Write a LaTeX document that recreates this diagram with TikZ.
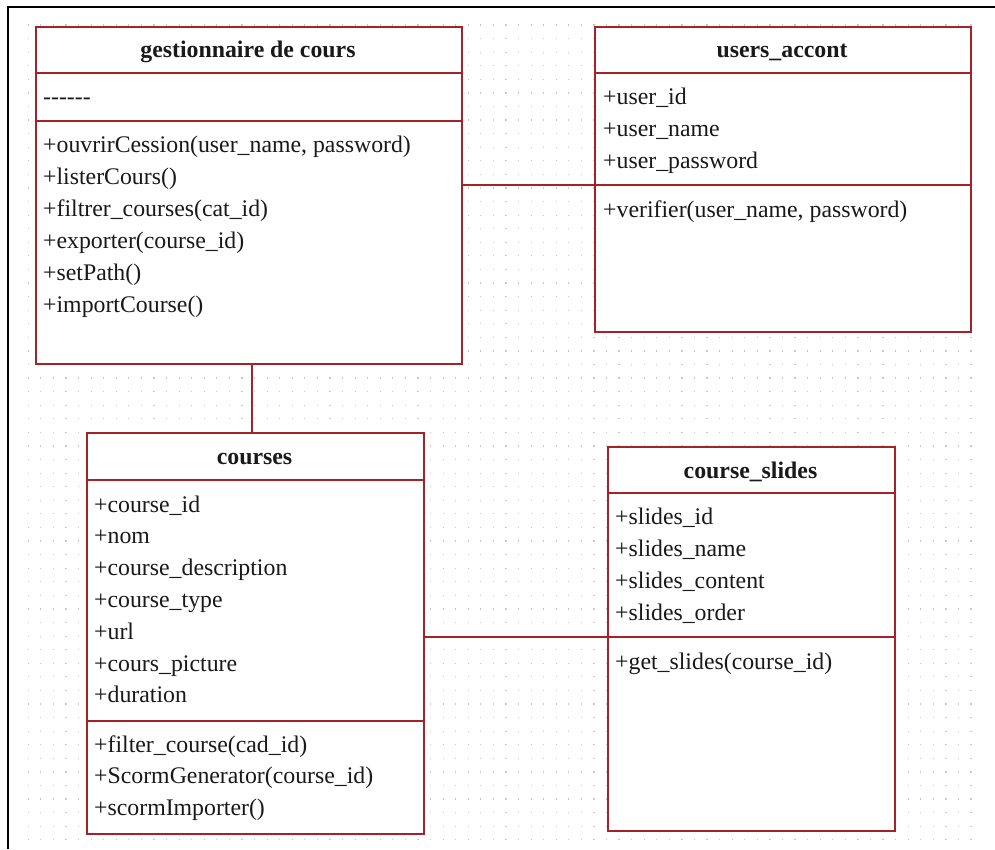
\documentclass[tikz,border=0pt]{standalone}
\usepackage{fontspec}
\setmainfont{Liberation Serif}
\usetikzlibrary{calc}
\definecolor{umlred}{RGB}{165,35,40}
\definecolor{dotgray}{RGB}{200,200,200}
\definecolor{txt}{RGB}{25,25,25}
\begin{document}
\begin{tikzpicture}[x=1pt,y=-1pt,
  classbox/.style={draw=umlred, fill=white, line width=2pt, inner sep=0pt, anchor=north west},
  sepline/.style={draw=umlred, line width=2pt},
  assoc/.style={draw=umlred, line width=2pt},
  ctitle/.style={font=\fontsize{23.8}{28}\selectfont\bfseries, text=txt, anchor=base, inner sep=0pt},
  member/.style={font=\fontsize{23.8}{28}\selectfont, text=txt, anchor=base west, inner sep=0pt},
  frameline/.style={draw=black, line width=2pt}]
\useasboundingbox (0,0) rectangle (995,849);
\fill[white] (0,0) rectangle (995,849);
% dotted grid
\foreach \i in {0,...,75} {
  \draw[dotgray, line width=1.2pt, dash pattern=on 1.2pt off 12.38pt]
    ({28.3+12.57*\i},24.4) -- ({28.3+12.57*\i},841);
}
% frame (left and top edges visible)
\draw[frameline] (8,849) -- (8,7) -- (995,7);

% class boxes
\node[classbox, minimum width=426pt, minimum height=337pt] (gest) at (35,26) {};
\node[classbox, minimum width=376pt, minimum height=305pt] (users) at (594,26) {};
\node[classbox, minimum width=337pt, minimum height=401pt] (courses) at (86,432) {};
\node[classbox, minimum width=287pt, minimum height=384pt] (slides) at (607,446) {};

% connectors
\coordinate (ua) at (users.west |- 0,185);
\coordinate (gc) at (252,0);
\coordinate (sa) at (slides.west |- 0,637);
\draw[assoc] (gest.east |- ua) -- (ua);
\draw[assoc] (gest.south -| gc) -- (courses.north -| gc);
\draw[assoc] (courses.east |- sa) -- (sa);

% separators
\draw[sepline] (gest.west |- 0,73) -- (gest.east |- 0,73);
\draw[sepline] (gest.west |- 0,121) -- (gest.east |- 0,121);
\draw[sepline] (users.west |- 0,73) -- (users.east |- 0,73);
\draw[sepline] (ua) -- (users.east |- ua);
\draw[sepline] (courses.west |- 0,480) -- (courses.east |- 0,480);
\draw[sepline] (courses.west |- 0,721) -- (courses.east |- 0,721);
\draw[sepline] (slides.west |- 0,493) -- (slides.east |- 0,493);
\draw[sepline] (sa) -- (slides.east |- sa);

% titles
\node[ctitle] (gestT) at (248,57) {gestionnaire de cours};
\node[ctitle] (usersT) at (782,57) {users\_accont};
\node[ctitle] (coursesT) at (254.5,464) {courses};
\node[ctitle] (slidesT) at (750.5,478) {course\_slides};

% gestionnaire de cours
\node[member] (ga1) at (43,104) {-{}-{}-{}-{}-{}-};
\foreach \t [count=\k] in {{+ouvrirCession(user\_name, password)},{+listerCours()},{+filtrer\_courses(cat\_id)},{+exporter(course\_id)},{+setPath()},{+importCourse()}}
  \node[member] (gm\k) at (43,{152+32.1*(\k-1)}) {\t};

% users_accont
\foreach \t [count=\k] in {{+user\_id},{+user\_name},{+user\_password}}
  \node[member] (ua\k) at (603,{104+32*(\k-1)}) {\t};
\node[member] (um1) at (603,217) {+verifier(user\_name, password)};

% courses
\foreach \t [count=\k] in {{+course\_id},{+nom},{+course\_description},{+course\_type},{+url},{+cours\_picture},{+duration}}
  \node[member] (ca\k) at (94,{512+31.8*(\k-1)}) {\t};
\foreach \t [count=\k] in {{+filter\_course(cad\_id)},{+ScormGenerator(course\_id)},{+scormImporter()}}
  \node[member] (cm\k) at (94,{752+31.6*(\k-1)}) {\t};

% course_slides
\foreach \t [count=\k] in {{+slides\_id},{+slides\_name},{+slides\_content},{+slides\_order}}
  \node[member] (sa\k) at (615,{524+32.3*(\k-1)}) {\t};
\node[member] (sm1) at (615,669) {+get\_slides(course\_id)};
\end{tikzpicture}
\end{document}
